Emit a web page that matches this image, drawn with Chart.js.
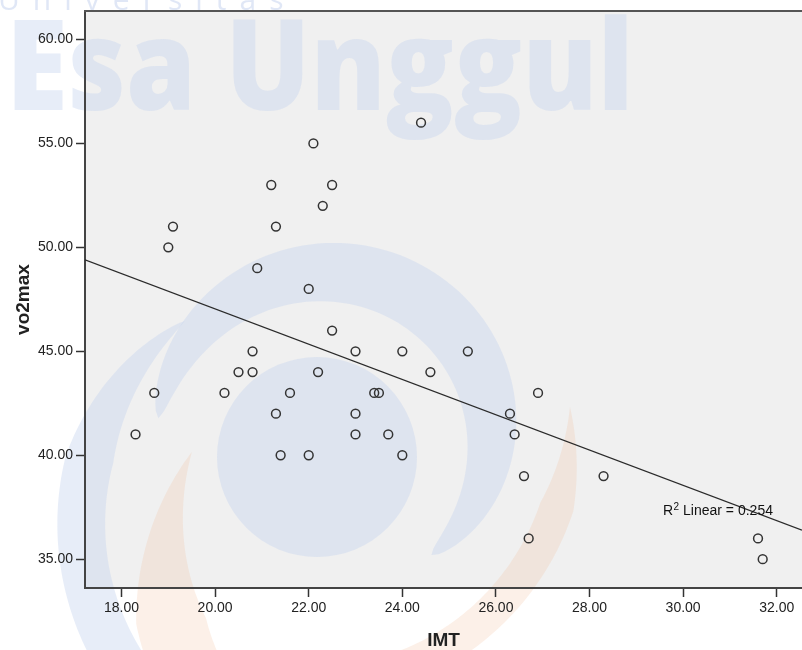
<!DOCTYPE html>
<html>
<head>
<meta charset="utf-8">
<script src="https://cdn.jsdelivr.net/npm/chart.js@4"></script>
<style>
  html, body { margin: 0; padding: 0; background: #ffffff; overflow: hidden; }
  #wrap { position: relative; width: 802px; height: 650px; }
  canvas { display: block; }
</style>
</head>
<body>
<div id="wrap"><canvas id="c" width="802" height="650"></canvas></div>
<script>
// ---- data ----
const imtValues = [18.3, 18.7, 19.0, 19.1, 20.2, 20.5, 20.8, 20.8, 20.9, 21.2,
                   21.3, 21.3, 21.4, 21.6, 22.0, 22.0, 22.1, 22.2, 22.3, 22.5,
                   22.5, 23.0, 23.0, 23.0, 23.4, 23.5, 23.7, 24.0, 24.0, 24.4,
                   24.6, 25.4, 26.3, 26.4, 26.6, 26.7, 26.9, 28.3, 31.6, 31.7];
const vo2maxValues = [41, 43, 50, 51, 43, 44, 44, 45, 49, 53,
                      51, 42, 40, 43, 48, 40, 55, 44, 52, 53,
                      46, 45, 42, 41, 43, 43, 41, 45, 40, 56,
                      44, 45, 42, 41, 39, 36, 43, 39, 36, 35];
// fit line end points (read at the plot edges)
const fitLineX = [17.22, 32.54];
const fitLineY = [49.40, 36.40];
const rSquaredText = ['R', '2', ' Linear = 0.254'];
const xTickStep = 2;
const yTickStep = 5;
const xRange = [17.22, 32.54];
const yRange = [33.615, 61.37];
const rLabelAt = { x: 29.57, y: 37.14 };

const scatterPoints = imtValues.map((x, i) => ({ x: x, y: vo2maxValues[i] }));
const fitPoints = fitLineX.map((x, i) => ({ x: x, y: fitLineY[i] }));

const BLUE = 'rgba(198,212,238,0.42)';
const ORANGE = 'rgba(240,185,150,0.22)';

function swoosh(ctx, cx, cy, r1, r2, a1, a2, wmax, profile) {
  const N = 100, outer = [], inner = [];
  for (let i = 0; i <= N; i++) {
    const t = i / N;
    const a = (a1 + (a2 - a1) * t) * Math.PI / 180;
    const r = r1 + (r2 - r1) * t;
    const w = wmax * profile(t) / 2;
    outer.push([cx + (r + w) * Math.cos(a), cy + (r + w) * Math.sin(a)]);
    inner.push([cx + (r - w) * Math.cos(a), cy + (r - w) * Math.sin(a)]);
  }
  ctx.beginPath();
  outer.forEach((p, i) => i ? ctx.lineTo(p[0], p[1]) : ctx.moveTo(p[0], p[1]));
  for (let i = inner.length - 1; i >= 0; i--) ctx.lineTo(inner[i][0], inner[i][1]);
  ctx.closePath();
  ctx.fill();
}

const backgroundPlugin = {
  id: 'bgAndWatermark',
  beforeDraw(chart) {
    const { ctx, chartArea: a } = chart;
    ctx.save();
    ctx.fillStyle = '#f0f0f0';
    ctx.fillRect(a.left, a.top, a.right - a.left, a.bottom - a.top);

    // watermark
    ctx.fillStyle = 'rgba(198,212,238,0.55)';
    ctx.font = '400 30px "Open Sans"';
    try { ctx.letterSpacing = '13px'; } catch (e) {}
    ctx.textBaseline = 'alphabetic';
    ctx.fillText('Universitas', -2, 10);
    try { ctx.letterSpacing = '0px'; } catch (e) {}

    ctx.fillStyle = BLUE;
    ctx.font = '800 126px "Open Sans"';
    const w = ctx.measureText('Esa Unggul').width;
    ctx.save();
    ctx.translate(6, 110);
    ctx.scale(628 / w, 1);
    ctx.fillText('Esa Unggul', 0, 0);
    ctx.restore();

    // logo swirl
    swoosh(ctx, 335, 440, 178, 150, 187, 410, 62, t => Math.pow(Math.sin(Math.PI * t), 0.6));
    swoosh(ctx, 340, 500, 237, 285, 229, 115, 48, t => Math.pow(Math.min(1, t / 0.35), 0.8));
    ctx.beginPath();
    ctx.arc(317, 457, 100, 0, Math.PI * 2);
    ctx.fill();
    ctx.fillStyle = ORANGE;
    swoosh(ctx, 420, 600, 272, 235, 213, 150, 70, t => Math.min(1, t / 0.6));
    swoosh(ctx, 300, 440, 272, 250, 353, 425, 34, t => Math.min(1, t / 0.3));
    ctx.restore();
  },
  afterDraw(chart) {
    const { ctx, chartArea: a, scales } = chart;
    ctx.save();
    // top frame line
    ctx.strokeStyle = '#555';
    ctx.lineWidth = 2;
    ctx.beginPath();
    ctx.moveTo(a.left - 1, a.top);
    ctx.lineTo(a.right, a.top);
    ctx.stroke();
    // R^2 label
    const x0 = scales.x.getPixelForValue(rLabelAt.x);
    const y0 = scales.y.getPixelForValue(rLabelAt.y);
    ctx.fillStyle = '#111';
    ctx.textBaseline = 'alphabetic';
    ctx.font = '14px "Liberation Sans", Arial, sans-serif';
    ctx.fillText(rSquaredText[0], x0, y0);
    let x = x0 + ctx.measureText(rSquaredText[0]).width + 0.5;
    ctx.font = '10px "Liberation Sans", Arial, sans-serif';
    ctx.fillText(rSquaredText[1], x, y0 - 5);
    x += ctx.measureText(rSquaredText[1]).width;
    ctx.font = '14px "Liberation Sans", Arial, sans-serif';
    ctx.fillText(rSquaredText[2], x, y0);
    ctx.restore();
  }
};

const tickFont = { family: '"Liberation Sans", Arial, sans-serif', size: 14 };
const titleFont = { family: '"Liberation Sans", Arial, sans-serif', size: 19, weight: 'bold', lineHeight: 1 };

new Chart(document.getElementById('c'), {
  type: 'scatter',
  data: {
    datasets: [
      {
        type: 'scatter',
        label: 'vo2max',
        data: scatterPoints,
        pointStyle: 'circle',
        pointRadius: 4.4,
        pointHoverRadius: 4.4,
        pointBorderWidth: 1.5,
        pointBorderColor: '#333',
        pointBackgroundColor: 'rgba(0,0,0,0)',
        order: 1
      },
      {
        type: 'line',
        label: 'fit',
        data: fitPoints,
        borderColor: '#2a2a2a',
        borderWidth: 1.2,
        pointRadius: 0,
        fill: false,
        order: 2
      }
    ]
  },
  options: {
    responsive: false,
    animation: false,
    events: [],
    layout: { autoPadding: false, padding: { top: 11, right: 0, left: 0, bottom: 0 } },
    plugins: { legend: { display: false }, tooltip: { enabled: false } },
    scales: {
      x: {
        type: 'linear',
        min: xRange[0],
        max: xRange[1],
        afterFit(s) { s.height = 62; s.paddingRight = 0; s.paddingLeft = 0; },
        ticks: {
          stepSize: xTickStep,
          includeBounds: false,
          autoSkip: false,
          maxRotation: 0,
          padding: 3,
          color: '#222',
          font: tickFont,
          callback: v => Number(v).toFixed(2)
        },
        grid: { drawOnChartArea: false, drawTicks: true, tickLength: 9, tickColor: '#333', tickWidth: 1.5 },
        border: { display: true, color: '#444', width: 2 },
        title: { display: true, text: 'IMT', color: '#222', font: titleFont, padding: { top: 0, bottom: 0 } }
      },
      y: {
        type: 'linear',
        min: yRange[0],
        max: yRange[1],
        afterFit(s) { s.width = 85; s.paddingTop = 0; s.paddingBottom = 0; },
        ticks: {
          stepSize: yTickStep,
          includeBounds: false,
          autoSkip: false,
          padding: 3,
          color: '#222',
          font: tickFont,
          callback: v => Number(v).toFixed(2)
        },
        grid: { drawOnChartArea: false, drawTicks: true, tickLength: 9, tickColor: '#333', tickWidth: 1.5 },
        border: { display: true, color: '#444', width: 2 },
        title: { display: true, text: 'vo2max', color: '#222', font: titleFont, padding: { top: 14.5, bottom: 0 } }
      }
    }
  },
  plugins: [backgroundPlugin]
});
</script>
</body>
</html>
